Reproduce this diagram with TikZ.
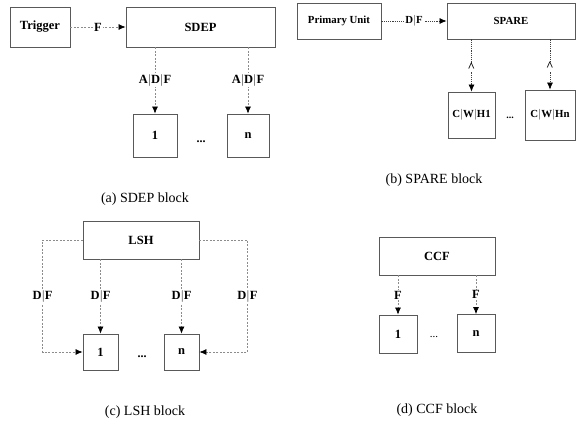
\documentclass[tikz,border=0pt]{standalone}
\usepackage{fontspec}
\setmainfont{Liberation Serif}
\usetikzlibrary{arrows.meta,calc,positioning}
\tikzset{
    x=1pt,y=-1pt,
    block/.style ={draw=black!65, line width=0.8pt, font=\fontsize{12.5}{14}\selectfont\bfseries, inner sep=0pt},
    link/.style = {draw=black!45, line width=0.7pt, dash pattern=on 2pt off 1.5pt, -{Latex[length=7pt,width=6pt,color=black]}},
    el/.style = {fill=white, inner sep=1pt, font=\fontsize{12.5}{14}\selectfont\bfseries},
    dots/.style = {font=\fontsize{12}{14}\selectfont\bfseries},
    caption/.style = {font=\fontsize{14}{16}\selectfont}
}
\begin{document}
\begin{tikzpicture}
    \useasboundingbox (0,0) rectangle (584,422);
    % (a) SDEP block
    \node[block, minimum width=60, minimum height=40] (trig) at (40,27) {Trigger};
    \node[block, minimum width=149, minimum height=40] (sdep) at (200.5,27) {SDEP};
    \node[block, minimum width=44, minimum height=43] (a1) at (155,135.5) {1};
    \node[block, minimum width=42, minimum height=43] (an) at (248,135.5) {n};
    \node[dots] (adots) at (201,142) {...};
    \node[caption] (acap) at (145,199) {(a) SDEP block};

    \path[link] (trig) -- node[el] {F} (sdep);
    \path[link] (a1.north |- sdep.south) -- node[el] {A$|$D$|$F} (a1.north);
    \path[link] (an.north |- sdep.south) -- node[el] {A$|$D$|$F} (an.north);

    % (b) SPARE block
    \begin{scope}[block/.append style={font=\fontsize{10.8}{12}\selectfont\bfseries},
                  el/.append style={font=\fontsize{10.8}{12}\selectfont\bfseries},
                  link/.append style={draw=black!75, dash pattern=on 1.2pt off 1pt}]
    \node[block, minimum width=84, minimum height=36] (pu) at (339,21) {Primary Unit};
    \node[block, minimum width=128, minimum height=36] (spare) at (511,21) {SPARE};
    \node[block, minimum width=47, minimum height=46] (h1) at (471.5,115) {C$|$W$|$H1};
    \node[block, minimum width=50, minimum height=50] (hn) at (550,115) {C$|$W$|$Hn};
    \node[dots, font=\fontsize{10}{12}\selectfont\bfseries] (bdots) at (510,118) {...};

    \path[link] (pu) -- node[el] {D$|$F} (spare);
    \path[link] (h1.north |- spare.south) -- node[el, font=\fontsize{13}{14}\selectfont\bfseries, inner sep=0pt, yshift=-2pt] {\textasciicircum} (h1.north);
    \path[link] (hn.north |- spare.south) -- node[el, font=\fontsize{13}{14}\selectfont\bfseries, inner sep=0pt, yshift=-2pt] {\textasciicircum} (hn.north);
    \end{scope}
    \node[caption] (bcap) at (434,180) {(b) SPARE block};

    % (c) LSH block
    \node[block, minimum width=116, minimum height=38] (lsh) at (141,240) {LSH};
    \node[block, minimum width=35, minimum height=36] (c1) at (100.5,352) {1};
    \node[block, minimum width=35, minimum height=36] (cn) at (181.5,352) {n};
    \node[dots] (cdots) at (142,357) {...};
    \node[caption] (ccap) at (145,412) {(c) LSH block};

    \path[link] (c1.north |- lsh.south) -- node[el] {D$|$F} (c1.north);
    \path[link] (cn.north |- lsh.south) -- node[el] {D$|$F} (cn.north);
    \path[link] (lsh.west) -- ++(-40,0) |- node[el, pos=0.25] {D$|$F} (c1.west);
    \path[link] (lsh.east) -- ++(48,0) |- node[el, pos=0.25] {D$|$F} (cn.east);

    % (d) CCF block
    \node[block, minimum width=116, minimum height=38] (ccf) at (437,256) {CCF};
    \node[block, minimum width=38, minimum height=38] (d1) at (398,334) {1};
    \node[block, minimum width=38, minimum height=38] (dn) at (476,333.5) {n};
    \node[font=\fontsize{11}{12}\selectfont] (ddots) at (434,337) {...};
    \node[caption] (dcap) at (437,410) {(d) CCF block};

    \path[link] (d1.north |- ccf.south) -- node[el] {F} (d1.north);
    \path[link] (dn.north |- ccf.south) -- node[el] {F} (dn.north);
\end{tikzpicture}
\end{document}
